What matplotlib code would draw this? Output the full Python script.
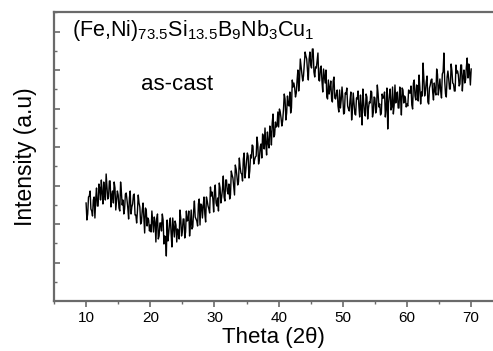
import matplotlib
matplotlib.use("Agg")
import matplotlib.pyplot as plt
from matplotlib.ticker import MultipleLocator
import numpy as np

plt.rcParams['font.family'] = ['Liberation Sans', 'DejaVu Sans']
plt.rcParams['mathtext.fontset'] = 'custom'
plt.rcParams['mathtext.rm'] = 'Liberation Sans'
plt.rcParams['mathtext.default'] = 'regular'

# 2-theta scan readings: grid points at 10 + 0.25*i
theta_start = 10.0
theta_step = 0.25
intensity_grid = [
    98, 87, 105, 92, 85, 104, 102, 95, 117, 101, 108, 119, 101, 114, 104, 120,
    106, 98, 113, 100, 106, 90, 109, 101, 92, 108, 93, 103, 87, 97, 107, 86,
    90, 98, 77, 91, 82, 93, 75, 81, 76, 90, 69, 79, 82, 62, 78, 70,
    81, 65, 45, 60, 78, 67, 83, 64, 76, 72, 62, 83, 70, 82, 69, 80,
    90, 76, 72, 90, 84, 80, 97, 76, 96, 95, 87, 104, 95, 88, 105, 102,
    110, 98, 103, 118, 98, 112, 104, 121, 110, 117, 106, 126, 114, 136, 125, 119,
    134, 127, 142, 123, 140, 145, 130, 143, 155, 141, 145, 157, 142, 157, 167, 152,
    157, 169, 153, 169, 178, 164, 179, 175, 174, 189, 175, 191, 202, 188, 196, 209,
    193, 214, 213, 208, 231, 220, 234, 220, 237, 245, 230, 242, 236, 252, 229, 234,
    241, 221, 233, 220, 232, 218, 204, 221, 213, 202, 220, 203, 208, 195, 211, 201,
    204, 188, 207, 195, 190, 209, 192, 198, 186, 202, 195, 206, 176, 199, 185, 204,
    193, 198, 209, 189, 203, 192, 207, 197, 188, 203, 209, 193, 172, 206, 191, 214,
    196, 198, 209, 193, 204, 213, 198, 203, 197, 211, 208, 196, 218, 205, 216, 200,
    214, 209, 238, 205, 219, 199, 213, 221, 209, 218, 206, 227, 213, 210, 227, 248,
    207, 224, 222, 212, 230, 217, 210, 228, 226, 217, 236, 224, 218, 234, 223, 229,
    232,
]
# readings half-way between grid points: 10.125 + 0.25*j
intensity_half = [
    81, 104, 110, 90, 101, 83, 113, 95, 113, 121, 97, 108, 127, 102, 120, 94,
    110, 119, 91, 110, 93, 119, 96, 87, 107, 101, 82, 110, 94, 106, 86, 78,
    106, 94, 79, 98, 68, 91, 83, 70, 69, 80, 84, 59, 87, 65, 78, 87,
    57, 64, 81, 68, 83, 54, 74, 80, 59, 68, 91, 65, 82, 63, 90, 81,
    65, 91, 74, 100, 82, 75, 102, 97, 83, 104, 79, 100, 92, 114, 109, 89,
    116, 95, 90, 113, 104, 125, 100, 121, 107, 102, 130, 123, 106, 132, 116, 143,
    128, 120, 148, 130, 148, 123, 146, 156, 137, 144, 164, 137, 154, 143, 164, 173,
    146, 158, 175, 156, 187, 166, 174, 189, 192, 183, 180, 207, 181, 205, 195, 188,
    221, 218, 204, 221, 210, 242, 227, 225, 249, 242, 221, 249, 233, 252, 224, 233,
    248, 220, 235, 209, 225, 231, 202, 207, 220, 199, 224, 202, 211, 189, 193, 214,
    187, 208, 213, 192, 201, 181, 208, 187, 203, 210, 184, 193, 212, 188, 207, 182,
    199, 210, 184, 204, 188, 216, 194, 186, 207, 203, 184, 213, 198, 212, 194, 187,
    216, 207, 193, 214, 186, 211, 205, 194, 195, 208, 215, 192, 221, 201, 215, 226,
    197, 205, 223, 210, 225, 197, 216, 222, 201, 210, 232, 206, 222, 203, 229, 220,
    204, 230, 212, 237, 218, 210, 236, 230, 215, 236, 210, 231, 221, 243, 237, 216,
]

theta_grid = theta_start + theta_step * np.arange(len(intensity_grid))
theta_half = theta_start + theta_step / 2 + theta_step * np.arange(len(intensity_half))
theta = np.concatenate([theta_grid, theta_half])
intensity = np.concatenate([intensity_grid, intensity_half])
order = np.argsort(theta, kind='stable')
theta = theta[order]
intensity = intensity[order]

x_ticks = [10, 20, 30, 40, 50, 60, 70]
title_text = r'(Fe,Ni)$_{73.5}$Si$_{13.5}$B$_{9}$Nb$_{3}$Cu$_{1}$'
state_text = 'as-cast'

fig = plt.figure(figsize=(4.93, 3.51), dpi=100)
ax = fig.add_axes([54/493, 1 - 301/351, 1 - 54/493, (301 - 12)/351])
ax.plot(theta, intensity, color='black', lw=1.0)

ax.set_xlim(5.0, 73.4)
ax.set_ylim(0, 289)
ax.xaxis.set_minor_locator(MultipleLocator(5))
ax.set_xticks(x_ticks)
ax.yaxis.set_major_locator(MultipleLocator(38.5))
ax.yaxis.set_minor_locator(MultipleLocator(19.25))
ax.set_yticklabels([])

spine_col = '#6a6a6a'
for s in ['left', 'bottom', 'top']:
    ax.spines[s].set_color(spine_col)
    ax.spines[s].set_linewidth(1.6)
ax.spines['right'].set_visible(False)

ax.tick_params(axis='x', which='major', direction='out', length=4, width=1.2,
               color=spine_col, labelsize=11, pad=3)
ax.tick_params(axis='x', which='minor', direction='out', length=2.5, width=1.0,
               color=spine_col)
ax.tick_params(axis='y', which='major', direction='in', length=4, width=1.2,
               color=spine_col, left=True, right=False)
ax.tick_params(axis='y', which='minor', direction='in', length=2, width=1.0,
               color=spine_col, left=True, right=False)

ax.set_xlabel('Theta (2θ)', fontsize=16, labelpad=2)
ax.set_ylabel('Intensity (a.u)', fontsize=16.5, labelpad=9)

ax.text(0.041, 0.917, title_text, transform=ax.transAxes, fontsize=15.5,
        ha='left', va='baseline')
ax.text(0.198, 0.73, state_text, transform=ax.transAxes, fontsize=16,
        ha='left', va='baseline')

fig.savefig('out.png', dpi=100)
